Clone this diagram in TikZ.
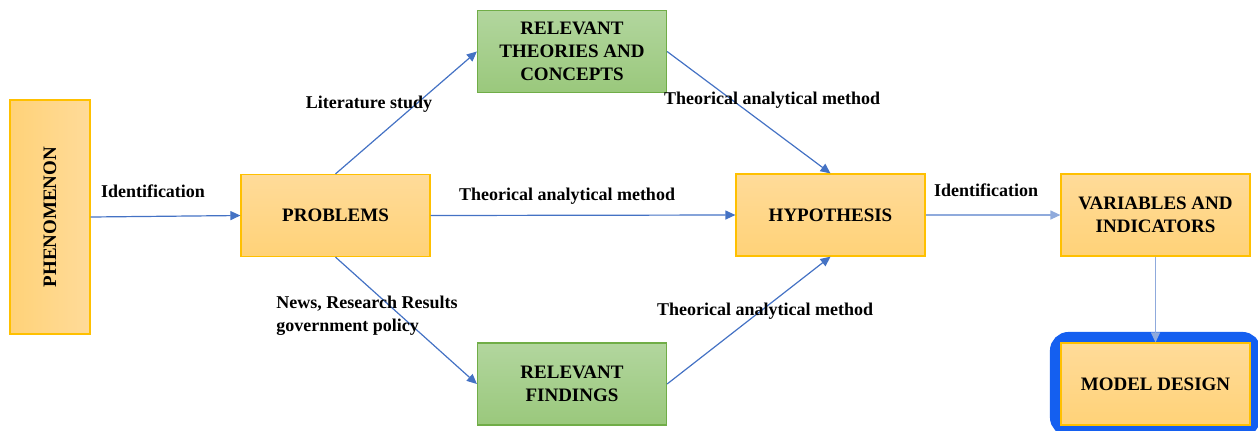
\documentclass[tikz,border=0pt]{standalone}
\usepackage{fontspec}
\setmainfont{Liberation Serif}
\usetikzlibrary{arrows.meta,fit,backgrounds}
\definecolor{boxtop}{RGB}{255,219,153}
\definecolor{boxbot}{RGB}{255,210,120}
\definecolor{boxline}{RGB}{255,192,0}
\definecolor{greentop}{RGB}{178,214,158}
\definecolor{greenbot}{RGB}{154,200,124}
\definecolor{greenline}{RGB}{112,173,71}
\definecolor{arrowblue}{RGB}{68,114,196}
\definecolor{paleblue}{RGB}{143,170,220}
\definecolor{frameblue}{RGB}{20,95,240}
\tikzset{
  orangebox/.style={draw=boxline, line width=0.6pt, top color=boxtop, bottom color=boxbot,
    minimum width=94.5pt, minimum height=41pt, align=center, font=\bfseries\fontsize{9.5}{11.5}\selectfont},
  greenbox/.style={orangebox, draw=greenline, top color=greentop, bottom color=greenbot},
  flow/.style={draw=arrowblue, line width=0.6pt, -{Triangle[length=5pt,width=4.5pt]}},
  paleflow/.style={flow, draw=paleblue},
  lbl/.style={font=\bfseries\fontsize{9}{11.5}\selectfont, inner sep=0pt}
}
\begin{document}
\begin{tikzpicture}[x=0.5pt,y=-0.5pt]
\useasboundingbox (0,0) rectangle (1258,430);
\node[orangebox, rotate=90, minimum width=117pt, minimum height=40pt, left color=boxbot, right color=boxtop] (phen) at (50,217) {PHENOMENON};
\node[orangebox] (prob) at (335.5,215.5) {PROBLEMS};
\node[greenbox] (theory) at (572,51.5) {RELEVANT\\THEORIES AND\\CONCEPTS};
\node[greenbox] (find) at (572,384) {RELEVANT\\FINDINGS};
\node[orangebox] (hypo) at (830.5,215) {HYPOTHESIS};
\node[orangebox] (vars) at (1155.5,215) {VARIABLES AND\\INDICATORS};
\node[orangebox] (design) at (1155.5,384) {MODEL DESIGN};
\begin{scope}[on background layer]
\node[fit=(design), inner sep=2.75pt, draw=frameblue, line width=5pt, rounded corners=7pt] (frame) {};
\end{scope}
\draw[flow] (phen.south) -- (prob.west);
\draw[flow] (prob.north) -- (theory.west);
\draw[flow] (prob.south) -- (find.west);
\draw[flow] (prob.east) -- (hypo.west);
\draw[flow] (theory.east) -- (hypo.north);
\draw[flow] (find.east) -- (hypo.south);
\draw[paleflow] (hypo.east) -- (vars.west);
\draw[paleflow] (vars.south) -- (design.north);
\node[lbl] (id1) at (153,191) {Identification};
\node[lbl] (lit) at (369,104) {Literature study};
\node[lbl, align=left, anchor=north west] (news) at (276,296) {News, Research Results\\government policy};
\node[lbl] (th1) at (567,196) {Theorical analytical method};
\node[lbl] (th2) at (772,100) {Theorical analytical method};
\node[lbl] (th3) at (765,311) {Theorical analytical method};
\node[lbl] (id2) at (986,190) {Identification};
\end{tikzpicture}
\end{document}
